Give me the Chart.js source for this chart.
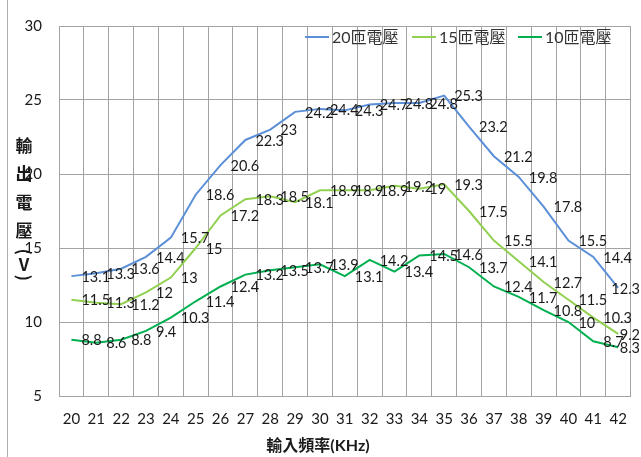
<!DOCTYPE html>
<html>
<head>
<meta charset="utf-8">
<script src="https://cdn.jsdelivr.net/npm/chart.js@4/dist/chart.umd.min.js"></script>
<style>
  html, body { margin: 0; padding: 0; background: #fff; }
  #wrap { width: 641px; height: 457px; position: relative; }
</style>
</head>
<body>
<div id="wrap"><canvas id="c" width="641" height="457"></canvas></div>
<script>
// Input frequency (kHz) and output voltage (V) for three winding counts
const frequencies = ['20','21','22','23','24','25','26','27','28','29','30','31','32','33','34','35','36','37','38','39','40','41','42'];
const turns20 = [13.1, 13.3, 13.6, 14.4, 15.7, 18.6, 20.6, 22.3, 23, 24.2, 24.4, 24.3, 24.7, 24.8, 24.8, 25.3, 23.2, 21.2, 19.8, 17.8, 15.5, 14.4, 12.3];
const turns15 = [11.5, 11.3, 11.2, 12, 13, 15, 17.2, 18.3, 18.5, 18.1, 18.9, 18.9, 18.9, 19.2, 19, 19.3, 17.5, 15.5, 14.1, 12.7, 11.5, 10.3, 9.2];
const turns10 = [8.8, 8.6, 8.8, 9.4, 10.3, 11.4, 12.4, 13.2, 13.5, 13.7, 13.9, 13.1, 14.2, 13.4, 14.5, 14.6, 13.7, 12.4, 11.7, 10.8, 10, 8.7, 8.3];
const seriesNames = ['20匝電壓', '15匝電壓', '10匝電壓'];
const yTitle = '輸出電壓(V)';
const xTitle = '輸入頻率(KHz)';

const COLORS = ['#5b8fd8', '#92d050', '#00b050'];
const GRID = '#a3a3a3';
const TEXT = '#1a1a1a';
const LATIN = "Lato, 'Noto Sans CJK TC', sans-serif";

// value labels to the right of each point, kept inside the canvas
const valueLabels = {
  id: 'valueLabels',
  afterDatasetsDraw(chart) {
    const ctx = chart.ctx;
    ctx.save();
    ctx.font = '14.5px ' + LATIN;
    ctx.fillStyle = TEXT;
    ctx.textBaseline = 'middle';
    ctx.textAlign = 'left';
    chart.data.datasets.forEach((ds, i) => {
      const meta = chart.getDatasetMeta(i);
      meta.data.forEach((pt, j) => {
        const txt = String(ds.data[j]);
        const w = ctx.measureText(txt).width;
        let x = pt.x + 10;
        if (x + w > chart.width - 1) x = chart.width - 1 - w;
        ctx.fillText(txt, x, pt.y + 1);
      });
    });
    ctx.restore();
  }
};

// legend inside the plot, axis titles and the outer frame line
const decorations = {
  id: 'decorations',
  afterDraw(chart) {
    const ctx = chart.ctx;
    const area = chart.chartArea;
    ctx.save();

    // frame line at the left edge
    ctx.strokeStyle = '#b0b0b0';
    ctx.lineWidth = 1;
    ctx.beginPath();
    ctx.moveTo(7.5, 0);
    ctx.lineTo(7.5, chart.height);
    ctx.stroke();

    // legend
    const legendStarts = [305, 412, 518];
    const ly = 37;
    ctx.font = '16px ' + LATIN;
    ctx.textBaseline = 'middle';
    ctx.textAlign = 'left';
    chart.data.datasets.forEach((ds, i) => {
      const x0 = legendStarts[i];
      ctx.strokeStyle = ds.borderColor;
      ctx.lineWidth = 2;
      ctx.beginPath();
      ctx.moveTo(x0, ly);
      ctx.lineTo(x0 + 24, ly);
      ctx.stroke();
      ctx.fillStyle = '#333';
      ctx.fillText(ds.label, x0 + 27, ly + 1);
    });

    // x axis title
    ctx.fillStyle = TEXT;
    ctx.font = "bold 16px Lato, 'Noto Sans CJK TC', sans-serif";
    ctx.textAlign = 'center';
    ctx.fillText(xTitle, 318, 446);

    // y axis title, stacked vertically
    const cjk = /[\u3000-\u9fff]/;
    const chars = Array.from(yTitle);
    let cy = 145.5;
    let prevAdv = null;
    chars.forEach((ch) => {
      const adv = cjk.test(ch) ? 28.5 : 13;
      if (prevAdv !== null) cy += (prevAdv + adv) / 2;
      prevAdv = adv;
      ctx.save();
      ctx.translate(24, cy);
      if (ch === '(' || ch === ')') ctx.rotate(Math.PI / 2);
      ctx.font = "bold 17px 'Noto Sans CJK TC', sans-serif";
      ctx.textAlign = 'center';
      ctx.textBaseline = 'middle';
      ctx.fillText(ch, 0, 0);
      ctx.restore();
    });
    ctx.restore();
  }
};

new Chart(document.getElementById('c'), {
  type: 'line',
  data: {
    labels: frequencies,
    datasets: [turns20, turns15, turns10].map((d, i) => ({
      label: seriesNames[i],
      data: d,
      borderColor: COLORS[i],
      backgroundColor: COLORS[i],
      borderWidth: 2,
      pointRadius: 0,
      tension: 0,
      fill: false
    }))
  },
  options: {
    responsive: false,
    animation: false,
    devicePixelRatio: 1,
    layout: { padding: { top: 16, right: 7, left: 0, bottom: 0 } },
    plugins: {
      legend: { display: false },
      title: { display: false },
      tooltip: { enabled: false }
    },
    scales: {
      x: {
        type: 'category',
        offset: true,
        grid: { offset: true, color: GRID, lineWidth: 1, drawTicks: false },
        border: { display: true, color: GRID, width: 1 },
        ticks: { color: TEXT, font: { family: LATIN, size: 15 }, padding: 14, maxRotation: 0, autoSkip: false },
        afterFit(scale) { scale.height = 61; }
      },
      y: {
        min: 5,
        max: 30,
        grid: { color: GRID, lineWidth: 1, drawTicks: false },
        border: { display: true, color: GRID, width: 1 },
        ticks: { stepSize: 5, color: TEXT, font: { family: LATIN, size: 15 }, padding: 17 },
        afterFit(scale) { scale.width = 59; }
      }
    }
  },
  plugins: [valueLabels, decorations]
});
</script>
</body>
</html>
